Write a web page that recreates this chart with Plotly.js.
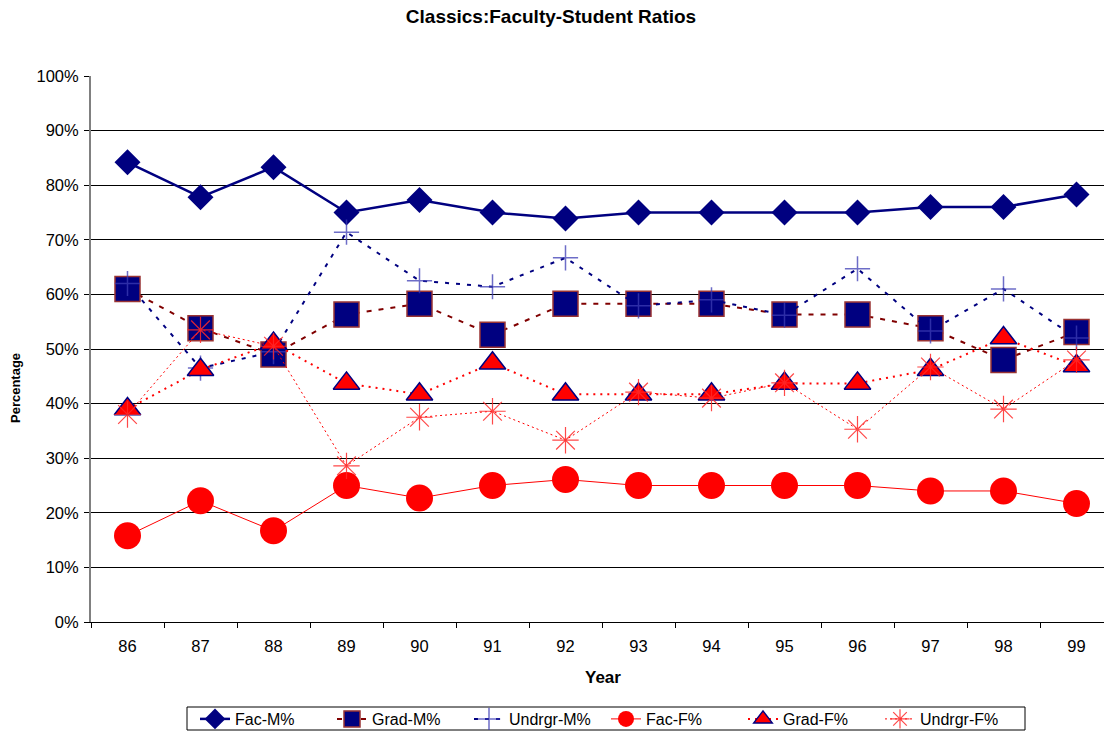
<!DOCTYPE html>
<html>
<head>
<meta charset="utf-8">
<script src="https://cdn.plot.ly/plotly-3.0.1.min.js"></script>
<style>
  html, body { margin: 0; padding: 0; overflow: hidden; background: #fff; }
  #chart { width: 1114px; height: 750px; }
</style>
</head>
<body>
<div id="chart"></div>
<script>
const years = ['86','87','88','89','90','91','92','93','94','95','96','97','98','99'];
const facM  = [84.2, 77.8, 83.3, 75.0, 77.3, 75.0, 73.9, 75.0, 75.0, 75.0, 75.0, 76.0, 76.0, 78.3];
const gradM = [61.0, 53.8, 49.0, 56.3, 58.3, 52.6, 58.3, 58.3, 58.3, 56.3, 56.3, 53.8, 48.0, 53.1];
const undM  = [62.0, 46.5, 49.5, 71.4, 62.5, 61.4, 66.7, 57.9, 59.0, 56.2, 64.7, 53.3, 61.0, 52.0];
const facF  = [15.8, 22.2, 16.7, 25.0, 22.7, 25.0, 26.1, 25.0, 25.0, 25.0, 25.0, 24.0, 24.0, 21.7];
const gradF = [39.0, 46.2, 51.0, 43.7, 41.7, 47.4, 41.7, 41.7, 41.7, 43.7, 43.7, 46.2, 52.0, 46.9];
const undF  = [38.0, 53.5, 50.5, 28.6, 37.5, 38.6, 33.3, 42.1, 41.0, 43.8, 35.3, 46.7, 39.0, 48.0];
const seriesNames = ['Fac-M%', 'Grad-M%', 'Undrgr-M%', 'Fac-F%', 'Grad-F%', 'Undrgr-F%'];

const font = 'Liberation Sans, Arial, sans-serif';
const navy = '#000080';
const H = 750;
const plotLeft = 91, plotW = 1022;
const plotTop = 76, plotBottom = 622;
const plotH = plotBottom - plotTop;
const px = v => (v - plotLeft) / plotW;
const py = v => (plotBottom - v) / plotH;

const traces = [
  { x: years, y: facM, name: seriesNames[0], mode: 'lines+markers',
    line: { color: navy, width: 2.5 },
    marker: { symbol: 'diamond', size: 20, color: navy } },
  { x: years, y: gradM, name: seriesNames[1], mode: 'lines+markers',
    line: { color: '#800000', width: 2, dash: '5px,7px' },
    marker: { symbol: 'square', size: 25, color: navy, line: { color: '#993333', width: 1.5 } } },
  { x: years, y: undM, name: seriesNames[2], mode: 'lines+markers',
    line: { color: navy, width: 2, dash: '4px,7px' },
    marker: { symbol: 'cross-thin-open', size: 18, color: 'rgba(60,60,180,0.75)', line: { color: 'rgba(60,60,180,0.75)', width: 1.5 } } },
  { x: years, y: facF, name: seriesNames[3], mode: 'lines+markers',
    line: { color: '#ff0000', width: 1 },
    marker: { symbol: 'circle', size: 27, color: '#ff0000' } },
  { x: years, y: gradF, name: seriesNames[4], mode: 'lines+markers',
    line: { color: '#ff0000', width: 2, dash: '2px,5px' },
    marker: { symbol: 'triangle-up', size: 23, color: '#ff0000', line: { color: navy, width: 1.5 } } },
  { x: years, y: undF, name: seriesNames[5], mode: 'lines+markers',
    line: { color: '#ff0000', width: 1, dash: '2px,3px' },
    marker: { symbol: 'asterisk-open', size: 22, color: 'rgba(255,40,40,0.85)', line: { color: 'rgba(255,40,40,0.85)', width: 1.2 } } }
];

const layout = {
  width: 1114, height: H,
  margin: { l: plotLeft, r: 1, t: plotTop, b: H - plotBottom },
  paper_bgcolor: '#fff', plot_bgcolor: '#fff',
  font: { family: font, size: 16, color: '#000' },
  title: { text: '<b>Classics:Faculty-Student Ratios</b>', font: { family: font, size: 19, color: '#000' },
           xref: 'container', x: 551/1114, xanchor: 'center', yref: 'container', y: 1 - 16/H, yanchor: 'middle' },
  showlegend: true,
  legend: { orientation: 'h', x: px(606), xanchor: 'center', y: py(719), yanchor: 'middle',
            borderwidth: 0, bgcolor: 'rgba(0,0,0,0)', font: { family: font, size: 16 }, entrywidth: 92, tracegroupgap: 0 },
  shapes: [
    { type: 'rect', xref: 'paper', yref: 'paper', x0: px(187), x1: px(1025), y0: py(707), y1: py(730),
      line: { color: '#000', width: 1 }, fillcolor: 'rgba(0,0,0,0)', layer: 'below' }
  ],
  xaxis: { type: 'category', range: [-0.5, 13.5], showgrid: false, zeroline: false,
           showline: true, linecolor: '#000', linewidth: 1,
           ticks: 'outside', tickson: 'boundaries', ticklen: 5, tickcolor: '#000',
           ticklabelstandoff: 9,
           tickfont: { family: font, size: 16.5 }, fixedrange: true },
  yaxis: { range: [0, 100], dtick: 10, tick0: 0, ticksuffix: '%', showgrid: true, gridcolor: '#000', gridwidth: 1,
           zeroline: false, showline: true, linecolor: '#808080', linewidth: 2,
           ticks: 'outside', ticklen: 5, tickcolor: '#000', ticklabelstandoff: 2,
           tickfont: { family: font, size: 16.5 } },
  annotations: [
    { text: '<b>Year</b>', xref: 'paper', yref: 'paper', x: px(603), y: py(677),
      xanchor: 'center', yanchor: 'middle', showarrow: false, font: { family: font, size: 17 } },
    { text: '<b>Percentage</b>', xref: 'paper', yref: 'paper', x: px(15), y: py(388),
      xanchor: 'center', yanchor: 'middle', textangle: -90, showarrow: false, font: { family: font, size: 13 } }
  ]
};

Plotly.newPlot('chart', traces, layout, { displayModeBar: false, staticPlot: true });
</script>
</body>
</html>
